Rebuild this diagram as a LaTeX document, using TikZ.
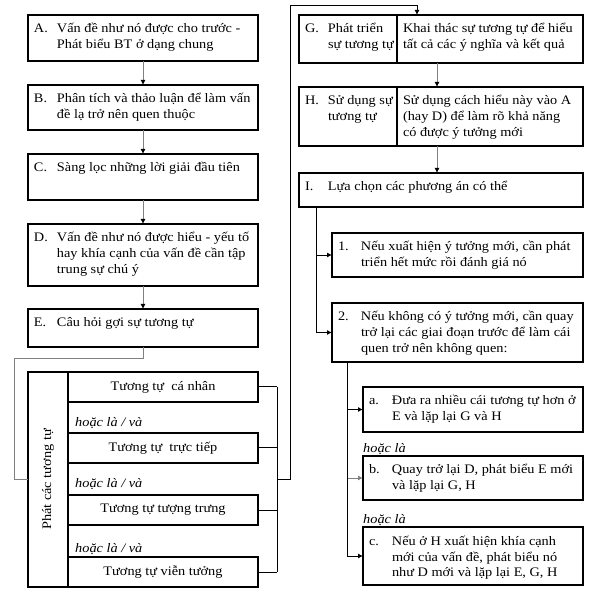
\documentclass[tikz,border=0pt]{standalone}
\usepackage{fontspec}
\setmainfont[FakeStretch=1.1]{Liberation Serif}
\usetikzlibrary{arrows.meta,calc}
\newlength\lblw
\setlength\lblw{23pt}
% box text: width, height, label, lines
\newcommand{\boxtxt}[4]{\parbox[t][\dimexpr#2pt-8pt\relax][t]{\dimexpr#1pt-12pt\relax}{\rule{0pt}{14pt}\makebox[\lblw][l]{#3}\begin{tabular}[t]{@{}l@{}}#4\end{tabular}}}
\newcommand{\plaintxt}[3]{\parbox[t][\dimexpr#2pt-8pt\relax][t]{\dimexpr#1pt-12pt\relax}{\rule{0pt}{14pt}\begin{tabular}[t]{@{}l@{}}#3\end{tabular}}}
\begin{document}
\begin{tikzpicture}
  [x=1pt,y=-1pt,every node/.style={font=\fontsize{13}{16}\selectfont},
   blk/.style={draw,line width=1.1pt,anchor=north west,inner xsep=6pt,inner ysep=4pt,outer sep=0pt},
   row/.style={draw,line width=1.1pt,anchor=north west,minimum width=190pt,minimum height=30pt,inner sep=0pt,outer sep=0pt},
   alt/.style={anchor=base west,inner sep=0pt,font=\fontsize{13}{16}\selectfont\itshape},
   arr/.style={draw=black!50,line width=0.9pt,-{Latex[color=black,length=5pt,width=5pt]}},
   arrk/.style={line width=0.9pt,-{Latex[length=5pt,width=5pt]}},
   link/.style={line width=1pt}]
\useasboundingbox (0,0) rectangle (598,596);
% left column
\node (A)[blk] at (28,15) {\boxtxt{230}{46}{A.}{Vấn đề như nó được cho trước -\\Phát biểu BT ở dạng chung}};
\node (B)[blk] at (28,85) {\boxtxt{230}{45}{B.}{Phân tích và thảo luận để làm vấn\\đề lạ trở nên quen thuộc}};
\node (C)[blk] at (28,154) {\boxtxt{230}{46}{C.}{Sàng lọc những lời giải đầu tiên}};
\node (D)[blk] at (28,224) {\boxtxt{230}{62}{D.}{Vấn đề như nó được hiểu - yếu tố\\hay khía cạnh của vấn đề cần tập\\trung sự chú ý}};
\node (E)[blk] at (28,309) {\boxtxt{230}{38}{E.}{Câu hỏi gợi sự tương tự}};
\foreach \from/\to in {A/B,B/C,C/D,D/E}
  \draw[arr] (\from.south) -- (\to.north);
% analogies
\node (S)[draw,line width=1.1pt,rotate=90,minimum width=215pt,minimum height=40pt,inner sep=0pt,outer sep=0pt] at (48,479.5) {Phát các tương tự};
\node (r1)[row] at (68,372) {Tương tự~ cá nhân};
\node (r2)[row] at (68,433) {Tương tự~ trực tiếp};
\node (r3)[row] at (68,495) {Tương tự tượng trưng};
\node (r4)[row] at (68,557) {Tương tự viễn tưởng};
\node (o1)[alt] at (75,427) {hoặc là / và};
\node (o2)[alt] at (75,488) {hoặc là / và};
\node (o3)[alt] at (75,552) {hoặc là / và};
\draw[link,draw=black!50] (E.south) -- ++(0,12) -| ([xshift=-14pt]S.north) -- (S.north);
\foreach \r in {r1,r2,r3,r4}
  \draw[link] (\r.east) -- ++(19,0);
\draw[link] ([xshift=19pt]r1.east) -- ([xshift=19pt]r4.east);
\coordinate (brk) at ($(r1.east)!.5!(r4.east)+(19,0)$);
% right column
\node (Gl)[blk] at (299,15) {\boxtxt{98}{48}{G.}{Phát triển\\sự tương tự}};
\node (Gr)[blk] at (397,15) {\plaintxt{186}{48}{Khai thác sự tương tự để hiểu\\tất cả các ý nghĩa và kết quả}};
\node (Hl)[blk] at (299,87) {\boxtxt{98}{59}{H.}{Sử dụng sự\\tương tự}};
\node (Hr)[blk] at (397,87) {\plaintxt{186}{59}{Sử dụng cách hiểu này vào A\\(hay D) để làm rõ khả năng\\có được ý tưởng mới}};
\node (I)[blk] at (299,173) {\boxtxt{284}{34}{I.}{Lựa chọn các phương án có thể}};
\draw[arrk] (brk) -- ++(13,0) |- ([xshift=20pt,yshift=10pt]Gr.north west) -- ([xshift=20pt]Gr.north west);
\draw[arr] ([xshift=40pt]Gr.south west) -- ([xshift=40pt]Hr.north west);
\draw[arr] ([xshift=40pt]Hr.south west) -- ([xshift=40pt]Hr.south west |- I.north);
\node (n1)[blk] at (332,233) {\boxtxt{251}{44}{1.}{Nếu xuất hiện ý tưởng mới, cần phát\\triển hết mức rồi đánh giá nó}};
\node (n2)[blk] at (332,303) {\boxtxt{251}{59}{2.}{Nếu không có ý tưởng mới, cần quay\\trở lại các giai đoạn trước để làm cái\\quen trở nên không quen:}};
\coordinate (ib) at ([xshift=17pt]I.south west);
\foreach \to in {n1,n2}
  \draw[arrk] (ib) |- (\to.west);
\node (na)[blk] at (363,387) {\boxtxt{220}{45}{a.}{Đưa ra nhiều cái tương tự hơn ở\\E và lặp lại G và H}};
\node (nb)[blk] at (363,456) {\boxtxt{220}{44}{b.}{Quay trở lại D, phát biểu E mới\\và lặp lại G, H}};
\node (nc)[blk] at (363,527) {\boxtxt{220}{58}{c.}{Nếu ở H xuất hiện khía cạnh\\mới của vấn đề, phát biểu nó\\như D mới và lặp lại E, G, H}};
\node (o4)[alt] at (363,453) {hoặc là};
\node (o5)[alt] at (363,523) {hoặc là};
\coordinate (nbr) at ([xshift=15pt]n2.south west);
\foreach \to/\c in {nb/black!50,na/black,nc/black}
  \draw[arrk,draw=\c] (nbr) |- (\to.west);
\end{tikzpicture}
\end{document}
